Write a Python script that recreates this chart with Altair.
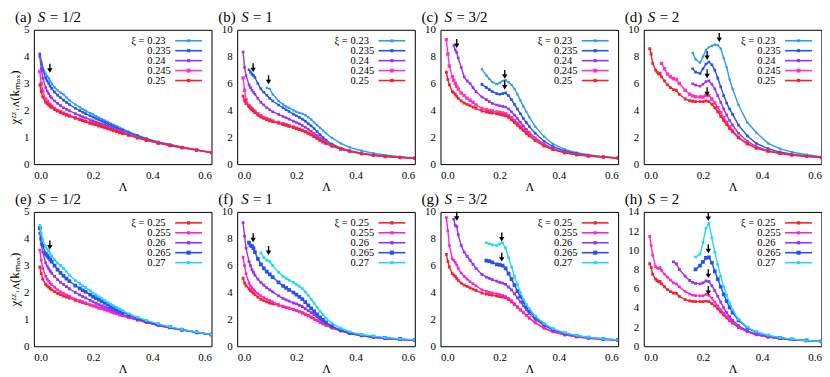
import altair as alt
import pandas as pd

N = None
LAM = [0.02, 0.025, 0.03, 0.04, 0.045, 0.05, 0.055, 0.06, 0.07, 0.08,
       0.09, 0.10, 0.11, 0.12, 0.14, 0.155, 0.165, 0.175, 0.19, 0.20,
       0.21, 0.22, 0.23, 0.24, 0.25, 0.26, 0.27, 0.28, 0.29, 0.30,
       0.32, 0.35, 0.38, 0.42, 0.46, 0.50, 0.55, 0.60]

# ---- xi = 0.25 curves (shared by top and bottom rows) ----
R_S12 = [2.95, 2.70, 2.50, 2.30, 2.25, 2.20, 2.15, 2.10, 2.03, 1.97,
         1.92, 1.87, 1.83, 1.79, 1.71, 1.66, 1.62, 1.59, 1.53, 1.50,
         1.47, 1.43, 1.40, 1.36, 1.33, 1.29, 1.25, 1.22, 1.18, 1.15,
         1.08, 0.98, 0.89, 0.78, 0.69, 0.62, 0.52, 0.43]
R_S1 = [5.06, 4.70, 4.50, 4.28, 4.15, 4.05, 3.95, 3.84, 3.65, 3.50,
        3.40, 3.30, 3.22, 3.15, 3.05, 2.95, 2.88, 2.82, 2.72, 2.65,
        2.58, 2.50, 2.40, 2.30, 2.18, 2.05, 1.92, 1.78, 1.66, 1.55,
        1.35, 1.12, 0.95, 0.78, 0.66, 0.57, 0.50, 0.44]
R_S32 = [6.84, 6.30, 5.90, 5.40, 5.30, 5.20, 5.05, 4.90, 4.70, 4.55,
         4.45, 4.35, 4.25, 4.15, 3.95, 3.88, 3.84, 3.80, 3.74, 3.70,
         3.65, 3.60, 3.48, 3.30, 3.10, 2.90, 2.70, 2.50, 2.30, 2.10,
         1.75, 1.35, 1.08, 0.85, 0.70, 0.60, 0.52, 0.45]
R_S2 = [8.60, 8.20, 7.50, 7.00, 6.85, 6.70, 6.75, 6.50, 6.20, 5.90,
        5.70, 5.55, 5.50, 5.20, 4.85, 4.72, 4.68, 4.65, 4.65, 4.65,
        4.70, 4.65, 4.45, 4.20, 3.90, 3.55, 3.25, 2.95, 2.65, 2.40,
        1.95, 1.50, 1.20, 0.95, 0.80, 0.68, 0.58, 0.50]

# ---- panel (a) S=1/2 ----
A_023 = [4.10, 3.82, 3.60, 3.36, 3.28, 3.20, 3.10, 3.00, 2.86, 2.75,
         2.66, 2.60, 2.48, 2.38, 2.22, 2.12, 2.05, 1.99, 1.90, 1.85,
         1.79, 1.73, 1.68, 1.62, 1.57, 1.51, 1.46, 1.41, 1.36, 1.31,
         1.21, 1.08, 0.96, 0.83, 0.73, 0.64, 0.53, 0.43]
A_0235 = [4.10, 3.75, 3.50, 3.20, 3.10, 3.00, 2.90, 2.82, 2.68, 2.57,
          2.47, 2.38, 2.30, 2.22, 2.08, 1.99, 1.93, 1.88, 1.80, 1.75,
          1.70, 1.65, 1.60, 1.55, 1.50, 1.45, 1.40, 1.35, 1.30, 1.26,
          1.17, 1.05, 0.94, 0.82, 0.72, 0.63, 0.53, 0.43]
A_024 = [4.00, 3.55, 3.20, 2.85, 2.72, 2.62, 2.53, 2.46, 2.35, 2.26,
         2.18, 2.10, 2.04, 1.98, 1.88, 1.81, 1.76, 1.72, 1.65, 1.61,
         1.57, 1.53, 1.49, 1.45, 1.41, 1.36, 1.32, 1.28, 1.24, 1.20,
         1.12, 1.01, 0.91, 0.80, 0.70, 0.62, 0.53, 0.43]
A_0245 = [3.45, 3.00, 2.72, 2.42, 2.34, 2.27, 2.21, 2.16, 2.07, 2.00,
          1.95, 1.90, 1.85, 1.81, 1.73, 1.67, 1.63, 1.59, 1.53, 1.50,
          1.47, 1.43, 1.40, 1.36, 1.33, 1.29, 1.25, 1.22, 1.18, 1.15,
          1.08, 0.98, 0.89, 0.78, 0.69, 0.61, 0.52, 0.43]

# ---- panel (b) S=1 ----
B_023 = [N, N, N, N, N, N, N, N, N, N,
         N, 5.67, 5.60, 5.20, 4.70, 4.45, 4.30, 4.18, 4.00, 3.90,
         3.82, 3.75, 3.65, 3.50, 3.32, 3.10, 2.90, 2.70, 2.50, 2.30,
         1.95, 1.55, 1.25, 1.00, 0.82, 0.68, 0.55, 0.46]
B_0235 = [N, N, N, 7.03, 6.85, 6.70, 6.60, 6.45, 6.00, 5.60,
          5.35, 5.13, 4.90, 4.70, 4.40, 4.20, 4.05, 3.92, 3.72, 3.60,
          3.48, 3.35, 3.20, 3.02, 2.85, 2.65, 2.42, 2.20, 1.98, 1.80,
          1.50, 1.20, 1.00, 0.82, 0.68, 0.59, 0.51, 0.45]
B_024 = [8.35, 7.20, 6.60, 5.90, 5.70, 5.50, 5.35, 5.20, 4.90, 4.60,
         4.40, 4.20, 4.05, 3.90, 3.70, 3.55, 3.45, 3.35, 3.20, 3.10,
         3.00, 2.88, 2.75, 2.60, 2.45, 2.28, 2.12, 1.95, 1.80, 1.66,
         1.42, 1.15, 0.97, 0.80, 0.67, 0.58, 0.50, 0.44]
B_0245 = [6.42, 5.50, 4.80, 4.35, 4.20, 4.10, 4.00, 3.92, 3.75, 3.60,
          3.48, 3.38, 3.30, 3.22, 3.10, 3.00, 2.93, 2.86, 2.76, 2.68,
          2.60, 2.52, 2.42, 2.32, 2.20, 2.07, 1.94, 1.80, 1.67, 1.56,
          1.36, 1.12, 0.95, 0.78, 0.66, 0.57, 0.50, 0.44]

# ---- panel (c) S=3/2 ----
C_023 = [N, N, N, N, N, N, N, N, N, N,
         N, N, N, N, 7.08, 6.60, 6.35, 6.10, 5.95, 6.05,
         6.20, 6.25, 6.10, 5.90, 5.60, 5.20, 4.75, 4.30, 3.90, 3.50,
         2.80, 2.05, 1.50, 1.10, 0.85, 0.70, 0.56, 0.47]
C_0235 = [N, N, N, N, N, N, N, N, N, N,
          N, N, N, N, 5.94, 5.70, 5.55, 5.40, 5.25, 5.20,
          5.25, 5.30, 5.10, 4.80, 4.45, 4.10, 3.75, 3.40, 3.10, 2.80,
          2.30, 1.70, 1.30, 0.98, 0.78, 0.65, 0.54, 0.46]
C_024 = [N, N, N, N, 8.83, 8.50, 8.30, 7.90, 7.20, 6.50,
         6.20, 6.00, 5.70, 5.40, 5.00, 4.80, 4.65, 4.52, 4.40, 4.35,
         4.30, 4.25, 4.10, 3.90, 3.65, 3.40, 3.12, 2.85, 2.60, 2.35,
         1.95, 1.50, 1.15, 0.88, 0.72, 0.62, 0.52, 0.45]
C_0245 = [9.27, 8.20, 7.30, 6.50, 6.25, 6.00, 5.80, 5.60, 5.30, 5.10,
          4.90, 4.75, 4.60, 4.40, 4.15, 4.05, 4.00, 3.95, 3.88, 3.85,
          3.80, 3.75, 3.62, 3.45, 3.25, 3.05, 2.82, 2.60, 2.40, 2.20,
          1.85, 1.40, 1.10, 0.86, 0.71, 0.60, 0.52, 0.45]

# ---- panel (d) S=2 ----
D_023 = [N, N, N, N, N, N, N, N, N, N,
         N, N, N, N, N, N, 8.28, 7.80, 7.55, 8.00,
         8.50, 8.70, 8.80, 8.90, 8.85, 8.60, 7.90, 7.20, 6.30, 5.60,
         4.40, 3.10, 2.35, 1.55, 1.15, 0.90, 0.70, 0.55]
D_0235 = [N, N, N, N, N, N, N, N, N, N,
          N, N, N, N, N, N, 7.10, 6.85, 6.75, 7.10,
          7.45, 7.60, 7.40, 7.00, 6.40, 5.75, 5.10, 4.55, 4.10, 3.70,
          2.90, 2.10, 1.55, 1.15, 0.90, 0.74, 0.61, 0.51]
D_024 = [N, N, N, N, N, N, N, N, N, N,
         N, N, N, N, N, N, 5.98, 5.88, 5.80, 5.95,
         6.15, 6.20, 5.95, 5.60, 5.10, 4.60, 4.10, 3.65, 3.25, 2.90,
         2.30, 1.70, 1.30, 1.00, 0.82, 0.70, 0.59, 0.50]
D_0245 = [N, N, N, N, N, N, N, 7.50, 7.10, 6.70,
          6.50, 6.35, 6.30, 6.00, 5.50, 5.20, 5.08, 5.02, 5.00, 5.00,
          5.10, 5.10, 4.85, 4.55, 4.20, 3.85, 3.45, 3.10, 2.78, 2.50,
          2.00, 1.55, 1.22, 0.97, 0.80, 0.68, 0.58, 0.50]

# ---- panel (e) S=1/2 ----
E_0255 = [3.58, 3.20, 2.90, 2.60, 2.50, 2.42, 2.36, 2.30, 2.20, 2.10,
          2.03, 1.97, 1.91, 1.86, 1.76, 1.70, 1.66, 1.62, 1.55, 1.50,
          1.46, 1.42, 1.39, 1.35, 1.31, 1.27, 1.23, 1.20, 1.16, 1.13,
          1.06, 0.97, 0.88, 0.77, 0.68, 0.60, 0.51, 0.43]
E_026 = [4.20, 3.80, 3.50, 3.10, 2.98, 2.88, 2.80, 2.72, 2.60, 2.48,
         2.38, 2.30, 2.22, 2.14, 2.00, 1.91, 1.85, 1.80, 1.71, 1.65,
         1.60, 1.55, 1.50, 1.46, 1.41, 1.37, 1.32, 1.27, 1.23, 1.18,
         1.10, 0.99, 0.90, 0.79, 0.69, 0.61, 0.52, 0.43]
E_0265 = [4.40, 4.00, 3.75, 3.45, 3.37, 3.30, 3.22, 3.15, 3.00, 2.85,
          2.73, 2.62, 2.52, 2.42, 2.26, 2.15, 2.08, 2.02, 1.92, 1.85,
          1.79, 1.73, 1.67, 1.61, 1.55, 1.49, 1.43, 1.38, 1.32, 1.27,
          1.17, 1.04, 0.93, 0.81, 0.71, 0.62, 0.52, 0.43]
E_027 = [4.50, 4.20, 3.95, 3.70, 3.62, 3.55, 3.45, 3.35, 3.22, 3.10,
         3.00, 2.90, 2.78, 2.65, 2.45, 2.33, 2.25, 2.18, 2.07, 1.98,
         1.91, 1.84, 1.77, 1.70, 1.63, 1.57, 1.50, 1.44, 1.38, 1.32,
         1.21, 1.08, 0.96, 0.83, 0.72, 0.63, 0.53, 0.43]

# ---- panel (f) S=1 ----
F_0255 = [6.63, 6.00, 5.40, 4.70, 4.50, 4.35, 4.22, 4.10, 3.92, 3.75,
          3.62, 3.50, 3.40, 3.30, 3.10, 2.99, 2.92, 2.86, 2.76, 2.65,
          2.55, 2.45, 2.35, 2.25, 2.12, 2.00, 1.90, 1.80, 1.70, 1.60,
          1.40, 1.15, 0.96, 0.79, 0.67, 0.58, 0.50, 0.44]
F_026 = [9.20, 8.20, 7.30, 6.30, 6.00, 5.70, 5.50, 5.30, 5.00, 4.75,
         4.55, 4.35, 4.20, 4.05, 3.75, 3.56, 3.45, 3.36, 3.22, 3.15,
         3.05, 2.95, 2.80, 2.65, 2.50, 2.35, 2.18, 2.00, 1.86, 1.72,
         1.45, 1.17, 0.98, 0.80, 0.68, 0.58, 0.50, 0.44]
F_0265 = [N, N, N, 7.72, 7.50, 7.45, 7.30, 7.00, 6.50, 6.10,
          5.80, 5.55, 5.35, 5.15, 4.75, 4.50, 4.35, 4.20, 4.00, 3.85,
          3.68, 3.50, 3.28, 3.05, 2.82, 2.60, 2.38, 2.15, 1.96, 1.78,
          1.50, 1.20, 1.00, 0.83, 0.72, 0.63, 0.55, 0.47]
F_027 = [N, N, N, N, N, N, N, N, N, 6.95,
         6.60, 6.40, 6.30, 6.00, 5.50, 5.20, 5.05, 4.92, 4.75, 4.60,
         4.45, 4.30, 4.05, 3.80, 3.50, 3.20, 2.90, 2.60, 2.35, 2.10,
         1.72, 1.35, 1.08, 0.87, 0.75, 0.64, 0.55, 0.47]

# ---- panel (g) S=3/2 ----
G_0255 = [9.57, 8.60, 7.50, 6.50, 6.40, 6.25, 6.05, 5.80, 5.45, 5.20,
          5.00, 4.80, 4.65, 4.50, 4.20, 4.08, 4.02, 3.97, 3.90, 3.85,
          3.80, 3.70, 3.57, 3.40, 3.18, 2.95, 2.72, 2.50, 2.30, 2.10,
          1.75, 1.35, 1.08, 0.85, 0.70, 0.60, 0.52, 0.45]
G_026 = [N, N, N, N, 9.45, 9.00, 8.90, 8.30, 7.50, 7.00,
         6.70, 6.40, 6.10, 5.80, 5.35, 5.15, 5.05, 4.95, 4.85, 4.75,
         4.70, 4.60, 4.40, 4.20, 3.90, 3.60, 3.30, 3.00, 2.72, 2.45,
         2.00, 1.55, 1.20, 0.92, 0.75, 0.64, 0.54, 0.46]
G_0265 = [N, N, N, N, N, N, N, N, N, N,
          N, N, N, N, N, 6.37, 6.33, 6.25, 6.10, 6.05,
          6.00, 5.80, 5.40, 5.00, 4.55, 4.10, 3.70, 3.30, 2.95, 2.65,
          2.15, 1.60, 1.25, 0.95, 0.78, 0.65, 0.55, 0.47]
G_027 = [N, N, N, N, N, N, N, N, N, N,
         N, N, N, N, N, 7.70, 7.62, 7.55, 7.50, 7.62,
         7.70, 7.30, 6.60, 5.90, 5.20, 4.60, 4.00, 3.50, 3.10, 2.80,
         2.25, 1.70, 1.30, 1.00, 0.80, 0.67, 0.56, 0.47]

# ---- panel (h) S=2 ----
H_0255 = [11.45, 10.50, 9.50, 8.30, 8.15, 8.10, 8.20, 7.90, 7.50, 7.20,
          6.90, 6.60, 6.50, 6.20, 5.70, 5.45, 5.32, 5.27, 5.25, 5.25,
          5.40, 5.30, 5.00, 4.60, 4.20, 3.80, 3.45, 3.10, 2.78, 2.50,
          2.00, 1.52, 1.20, 0.95, 0.80, 0.68, 0.58, 0.50]
H_026 = [N, N, N, N, N, N, N, N, N, N,
         N, 8.80, 8.60, 8.00, 7.30, 6.85, 6.65, 6.55, 6.50, 6.60,
         6.80, 6.75, 6.30, 5.80, 5.20, 4.60, 4.00, 3.50, 3.08, 2.70,
         2.15, 1.60, 1.25, 0.98, 0.80, 0.68, 0.58, 0.50]
H_0265 = [N, N, N, N, N, N, N, N, N, N,
          N, N, N, N, N, N, N, 8.00, 8.40, 8.80,
          9.20, 9.25, 8.70, 7.80, 7.00, 6.20, 5.40, 4.70, 4.05, 3.50,
          2.70, 1.90, 1.45, 1.10, 0.88, 0.73, 0.60, 0.50]
H_027 = [N, N, N, N, N, N, N, N, N, N,
         N, N, N, N, N, N, N, 9.30, 9.60, 10.80,
         12.30, 12.80, 11.30, 9.80, 8.50, 7.30, 6.20, 5.30, 4.50, 3.80,
         2.80, 2.00, 1.50, 1.15, 0.90, 0.74, 0.60, 0.50]

# ---- arrows (Lambda, value at tip) ----
ARR_A_L, ARR_A_V = [0.054], [3.40]
ARR_B_L, ARR_B_V = [0.054, 0.106], [6.85, 5.95]
ARR_C_L, ARR_C_V = [0.055, 0.217, 0.217], [8.65, 6.35, 5.55]
ARR_D_L, ARR_D_V = [0.255, 0.214, 0.214, 0.214], [9.10, 7.75, 6.40, 5.05]
ARR_E_L, ARR_E_V = [0.054], [3.60]
ARR_F_L, ARR_F_V = [0.054, 0.106], [7.75, 6.80]
ARR_G_L, ARR_G_V = [0.055, 0.207, 0.207], [9.35, 7.80, 6.30]
ARR_H_L, ARR_H_V = [0.218, 0.218, 0.218, 0.218], [13.05, 9.70, 7.10, 5.35]

XI_TOP = ["0.23", "0.235", "0.24", "0.245", "0.25"]
XI_BOT = ["0.25", "0.255", "0.26", "0.265", "0.27"]

COLORS = {"0.23": "#2E9BF0", "0.235": "#2255EE", "0.24": "#9A32F0",
          "0.245": "#FF33C0", "0.25": "#F5222D", "0.255": "#FF22CC",
          "0.26": "#9A32F0", "0.265": "#2850F0", "0.27": "#22D5FF"}
MSIZE = {"0.23": 5, "0.235": 7, "0.24": 7, "0.245": 12, "0.25": 8,
         "0.255": 7, "0.26": 8, "0.265": 14, "0.27": 7}

FONT = "Liberation Serif"
W, H = 178.5, 135
ARROW = "M-0.15,-2L0.15,-2L0.15,-1L0.6,-1L0,0L-0.6,-1L-0.15,-1Z"
YTITLE = "χᶻᶻ˒ᴧ(kₘₐₓ)"

PANELS = [
    ("(a)", "= 1/2", XI_TOP, [A_023, A_0235, A_024, A_0245, R_S12], 5, 1, ARR_A_L, ARR_A_V, True),
    ("(b)", "= 1", XI_TOP, [B_023, B_0235, B_024, B_0245, R_S1], 10, 2, ARR_B_L, ARR_B_V, False),
    ("(c)", "= 3/2", XI_TOP, [C_023, C_0235, C_024, C_0245, R_S32], 10, 2, ARR_C_L, ARR_C_V, False),
    ("(d)", "= 2", XI_TOP, [D_023, D_0235, D_024, D_0245, R_S2], 10, 2, ARR_D_L, ARR_D_V, False),
    ("(e)", "= 1/2", XI_BOT, [R_S12, E_0255, E_026, E_0265, E_027], 5, 1, ARR_E_L, ARR_E_V, True),
    ("(f)", "= 1", XI_BOT, [R_S1, F_0255, F_026, F_0265, F_027], 10, 2, ARR_F_L, ARR_F_V, False),
    ("(g)", "= 3/2", XI_BOT, [R_S32, G_0255, G_026, G_0265, G_027], 10, 2, ARR_G_L, ARR_G_V, False),
    ("(h)", "= 2", XI_BOT, [R_S2, H_0255, H_026, H_0265, H_027], 14, 2, ARR_H_L, ARR_H_V, False),
]


def make_panel(tag, spin, xis, series, ymax, ystep, arr_l, arr_v, has_ytitle):
    rows = []
    for xi, vals in zip(xis, series):
        for lam, v in zip(LAM, vals):
            if v is not None:
                rows.append({"xi": xi, "L": lam, "v": v})
    df = pd.DataFrame(rows)
    xaxis = alt.Axis(values=[0, 0.2, 0.4, 0.6], format=".1f", title="Λ")
    yargs = dict(values=list(range(0, ymax + 1, ystep)), format="d")
    yargs["title"] = YTITLE if has_ytitle else None
    yaxis = alt.Axis(**yargs)
    xenc = alt.X("L:Q", scale=alt.Scale(domain=[0, 0.6], nice=False), axis=xaxis)
    yenc = alt.Y("v:Q", scale=alt.Scale(domain=[0, ymax], nice=False), axis=yaxis)

    layers = []
    for xi in xis:
        c = COLORS[xi]
        layers.append(
            alt.Chart(df).transform_filter(alt.datum.xi == xi)
            .mark_line(color=c, strokeWidth=1.4, clip=True,
                       point=alt.OverlayMarkDef(shape="square", size=MSIZE[xi],
                                                filled=True, color=c, opacity=1))
            .encode(x=xenc, y=yenc)
        )
    adf = pd.DataFrame({"L": arr_l, "v": arr_v})
    layers.append(
        alt.Chart(adf).mark_point(shape=ARROW, size=81, filled=True,
                                  color="black", opacity=1, strokeWidth=0)
        .encode(x=xenc, y=yenc)
    )
    # legend (gnuplot style: label left, line sample right)
    layers.append(
        alt.Chart(pd.DataFrame({"t": ["ξ ="]})).mark_text(
            align="right", baseline="middle", font=FONT, fontSize=10.5, color="black")
        .encode(x=alt.value(111), y=alt.value(11), text="t:N")
    )
    for i, xi in enumerate(xis):
        ly = 11 + 10 * i
        ldf = pd.DataFrame({"t": [xi]})
        layers.append(
            alt.Chart(ldf).mark_text(align="left", baseline="middle", font=FONT,
                                     fontSize=10.5, color="black")
            .encode(x=alt.value(114), y=alt.value(ly), text="t:N")
        )
        layers.append(
            alt.Chart(ldf).mark_rule(color=COLORS[xi], strokeWidth=1.6)
            .encode(x=alt.value(142), x2=alt.value(169), y=alt.value(ly))
        )
        layers.append(
            alt.Chart(ldf).mark_point(shape="square", size=MSIZE[xi] + 3, filled=True,
                                      color=COLORS[xi], opacity=1)
            .encode(x=alt.value(155.5), y=alt.value(ly))
        )
    # panel title
    layers.append(
        alt.Chart(pd.DataFrame({"t": [tag]})).mark_text(
            align="left", baseline="alphabetic", font=FONT, fontSize=15, color="black")
        .encode(x=alt.value(-19), y=alt.value(-8), text="t:N")
    )
    layers.append(
        alt.Chart(pd.DataFrame({"t": ["S"]})).mark_text(
            align="left", baseline="alphabetic", font=FONT, fontSize=15,
            fontStyle="italic", color="black")
        .encode(x=alt.value(4), y=alt.value(-8), text="t:N")
    )
    layers.append(
        alt.Chart(pd.DataFrame({"t": [spin]})).mark_text(
            align="left", baseline="alphabetic", font=FONT, fontSize=15, color="black")
        .encode(x=alt.value(16), y=alt.value(-8), text="t:N")
    )
    return alt.layer(*layers).properties(width=W, height=H)


panels = [make_panel(*p) for p in PANELS]
chart = alt.concat(
    *panels, columns=4, spacing={"row": 48, "column": 25.3}, bounds="flush"
).properties(
    padding={"left": 0, "top": 0, "right": 0, "bottom": 0}
).configure_view(
    stroke="black", strokeWidth=1
).configure_axis(
    grid=False, domain=False, ticks=False, labelFont=FONT, titleFont=FONT,
    labelFontSize=11, labelColor="black", titleColor="black",
    titleFontWeight="normal", titleFontSize=13, labelPadding=5
).configure_axisX(
    titlePadding=1, labelPadding=5, titleFontSize=12
).configure_axisY(
    titlePadding=2
)

chart.save("out.html", embed_options={"renderer": "svg", "actions": False})
